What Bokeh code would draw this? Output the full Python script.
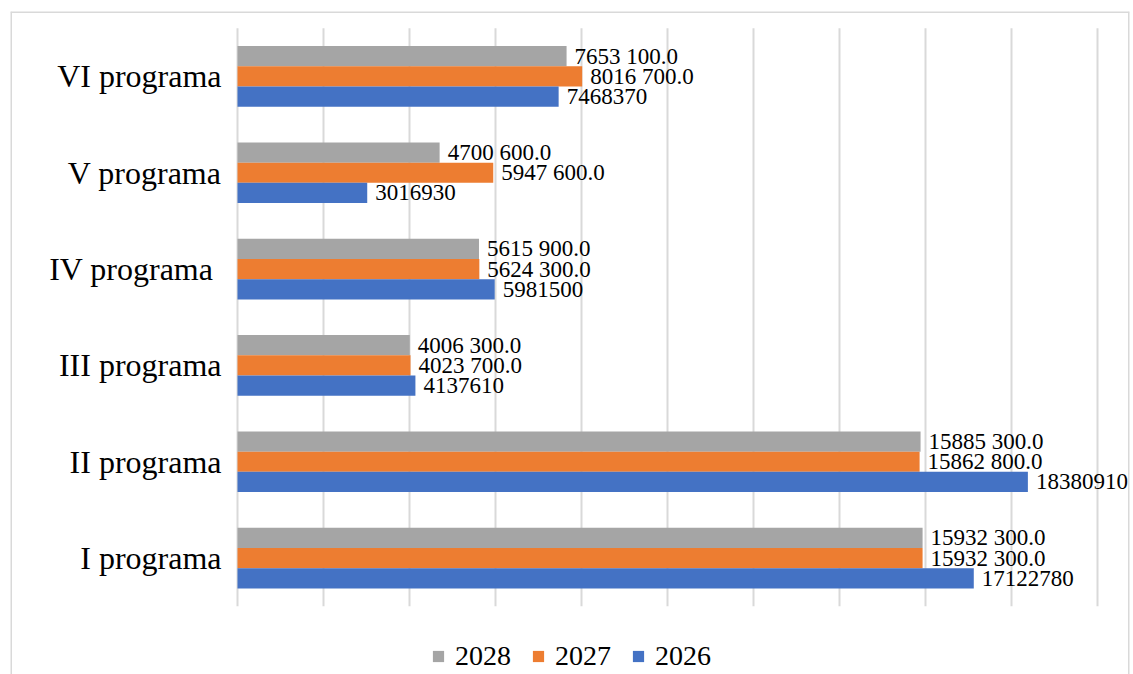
from bokeh.plotting import figure
from bokeh.models import Range1d, ColumnDataSource, Legend, LegendItem, Span
from bokeh.transform import dodge
from bokeh.embed import file_html
from bokeh.resources import INLINE
from bokeh.core.properties import value

categories = ["I programa", "II programa", "III programa", "IV  programa", "V programa", "VI programa"]
years = ["2028", "2027", "2026"]
values_2026 = [17122780, 18380910, 4137610, 5981500, 3016930, 7468370]
values_2027 = [15932300, 15862800, 4023700, 5624300, 5947600, 8016700]
values_2028 = [15932300, 15885300, 4006300, 5615900, 4700600, 7653100]
labels_2026 = ["17122780", "18380910", "4137610", "5981500", "3016930", "7468370"]
labels_2027 = ["15932 300.0", "15862 800.0", "4023 700.0", "5624 300.0", "5947 600.0", "8016 700.0"]
labels_2028 = ["15932 300.0", "15885 300.0", "4006 300.0", "5615 900.0", "4700 600.0", "7653 100.0"]
x_ticks = [0, 2000000, 4000000, 6000000, 8000000, 10000000, 12000000, 14000000, 16000000, 18000000, 20000000]

colors = {"2028": "#A5A5A5", "2027": "#ED7D31", "2026": "#4472C4"}
offsets = {"2028": 0.21, "2027": 0.0, "2026": -0.21}
series = {"2028": (values_2028, labels_2028), "2027": (values_2027, labels_2027), "2026": (values_2026, labels_2026)}

SERIF = "Liberation Serif"

# layout (pixels)
W, H = 1133, 674
FL, FT, FR = 10, 11, 1129           # frame left / top / right (outer chart border)
PL, PR, PT, PB = 237, 1097, 27.75, 605.75   # plotting area
XMAX = x_ticks[-1]
upx = XMAX / (PR - PL)
xs = -(PL - FL) * upx
xe = XMAX + (FR - PR) * upx
ncat = len(categories)
upy = ncat / (PB - PT)
ys = -(H - PB) * upy
ye = ncat + (PT - FT) * upy

p = figure(
    width=W, height=H,
    x_range=Range1d(xs, xe), y_range=Range1d(ys, ye),
    min_border_left=FL, min_border_right=W - FR, min_border_top=FT, min_border_bottom=0,
    output_backend="svg", toolbar_location=None,
    background_fill_color="white", border_fill_color="white",
    x_axis_location=None, y_axis_location=None,
)
p.outline_line_color = None
p.xgrid.visible = False
p.ygrid.visible = False

ypos = [i + 0.5 for i in range(ncat)]

# gridlines over the plotting area only
p.segment(x0=x_ticks, y0=[0] * len(x_ticks), x1=x_ticks, y1=[ncat] * len(x_ticks),
          line_color="#d9d9d9", line_width=2)

renderers = {}
for yr in years:
    vals, labs = series[yr]
    src = ColumnDataSource(dict(y=ypos, v=vals, lab=labs))
    r = p.hbar(y=dodge("y", offsets[yr]), left=0, right="v", height=0.21,
               source=src, fill_color=colors[yr], line_color=None)
    renderers[yr] = r
    p.text(x="v", y=dodge("y", offsets[yr]), text="lab", source=src,
           x_offset=8, text_baseline="middle", text_align="left",
           text_font=value(SERIF), text_font_size=value("23px"), text_color="#000000")

# category labels
csrc = ColumnDataSource(dict(y=ypos, name=categories, x0=[0] * ncat))
p.text(x="x0", y="y", text="name", source=csrc, x_offset=-16,
       text_align="right", text_baseline="middle",
       text_font=value(SERIF), text_font_size=value("32px"), text_color="#000000")

# chart border (top, left, right)
for loc, dim in [(xs, "height"), (xe, "height"), (ye, "width")]:
    p.add_layout(Span(location=loc, dimension=dim, line_color="#d9d9d9", line_width=3))

legend = Legend(
    items=[LegendItem(label=yr, renderers=[renderers[yr]]) for yr in years],
    orientation="horizontal", location=(421, 2),
    glyph_width=14, glyph_height=14, label_standoff=10, spacing=20,
    label_text_font=SERIF, label_text_font_size="28px", label_text_color="#000000",
    padding=0, margin=0, border_line_color=None, background_fill_alpha=0,
)
p.add_layout(legend)

open("out.html", "w").write(file_html(p, INLINE))
